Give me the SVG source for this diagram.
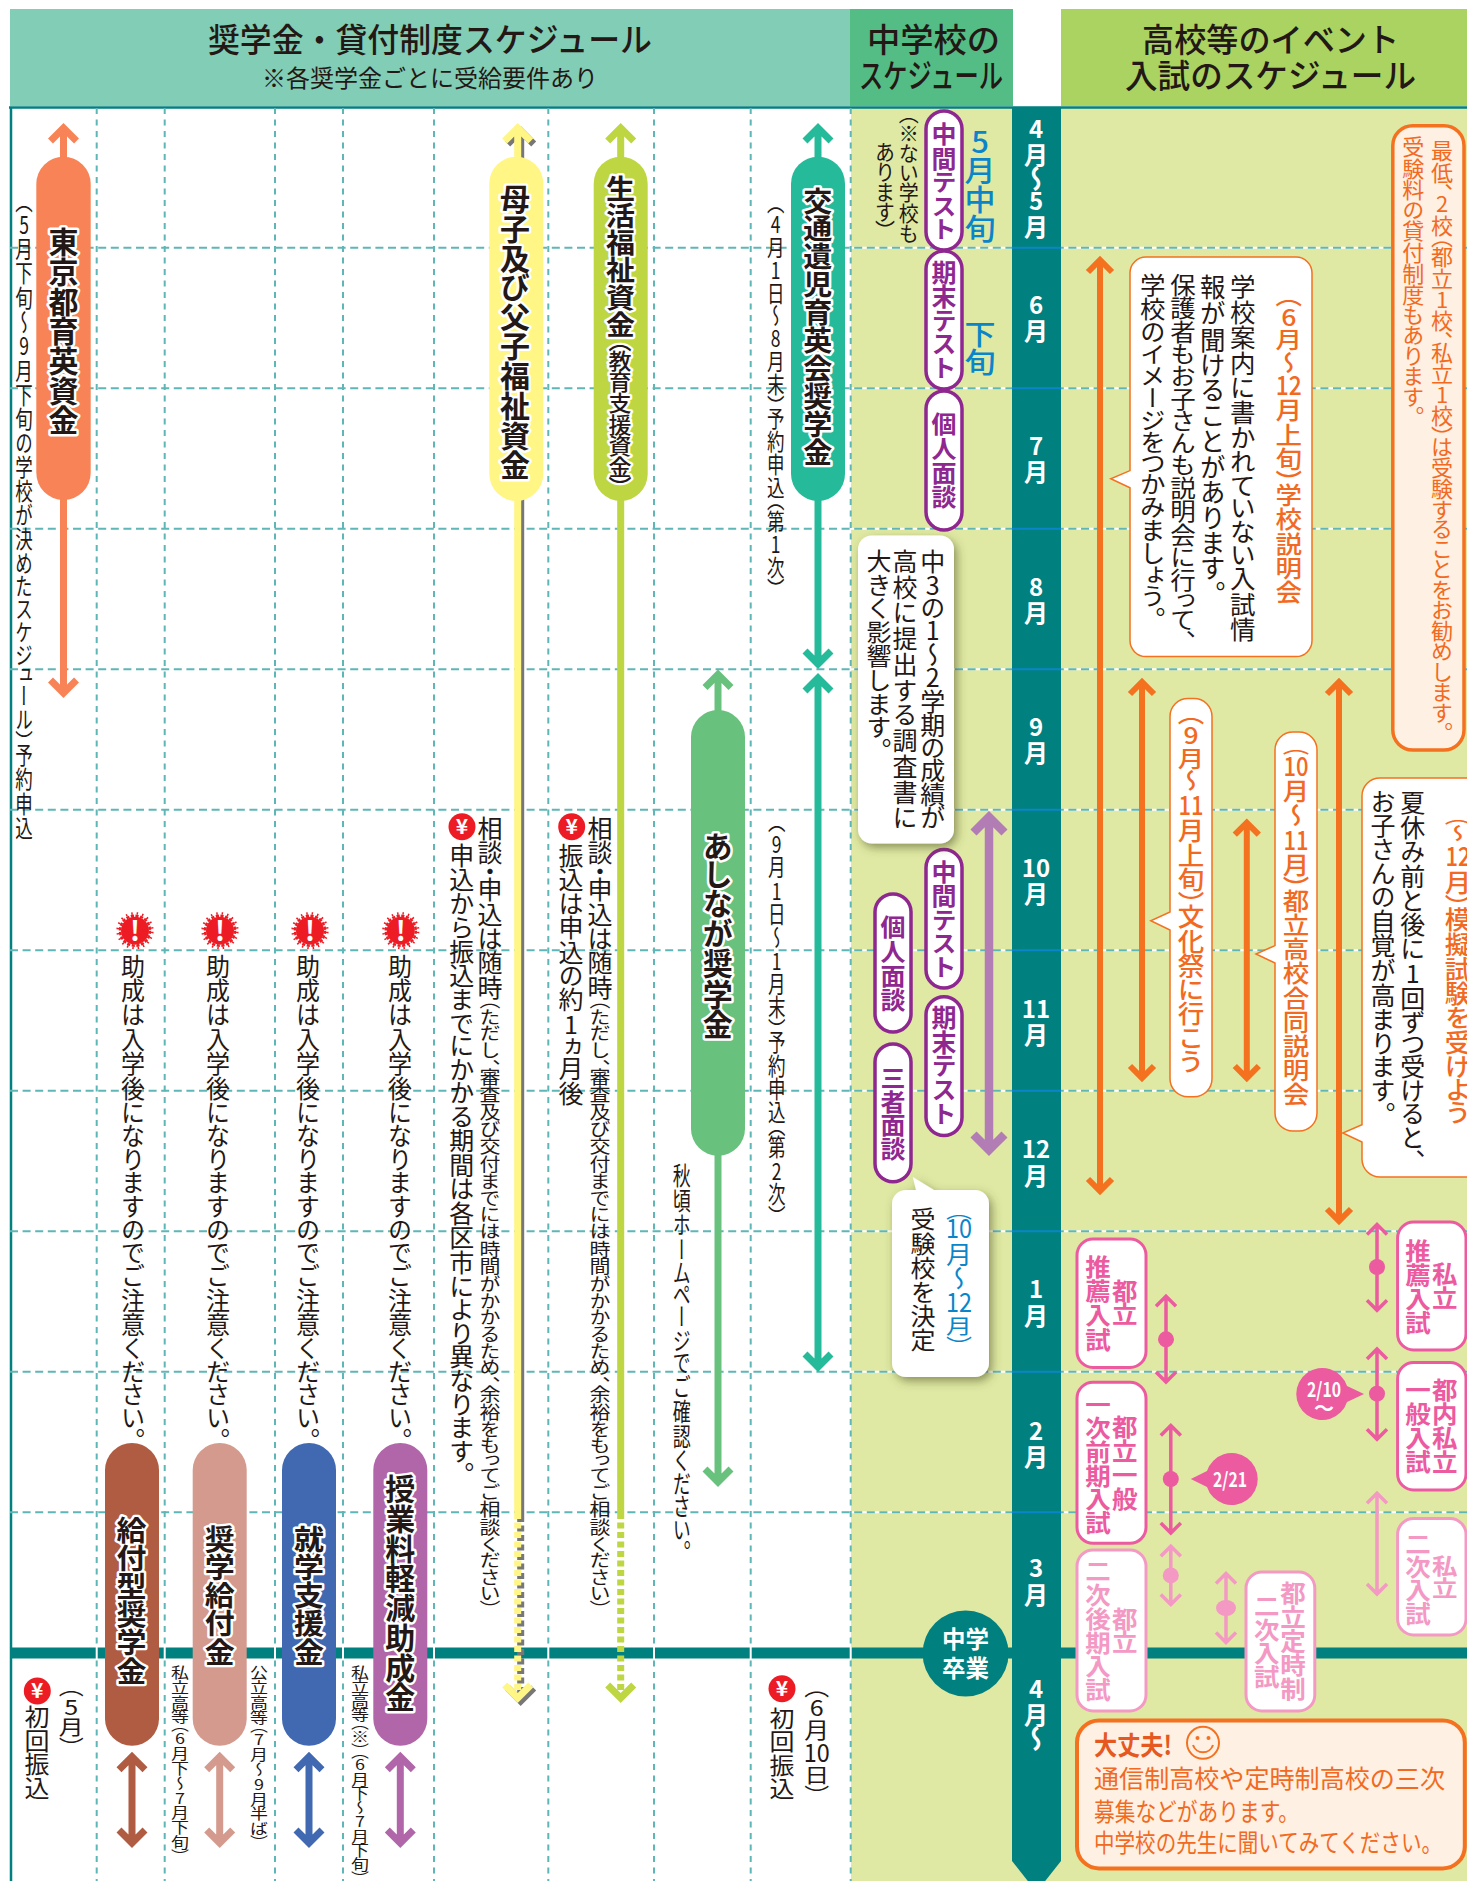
<svg xmlns="http://www.w3.org/2000/svg" width="1467" height="1881" viewBox="0 0 1467 1881">
<style>
text{font-family:"Noto Sans CJK JP","Noto Sans CJK SC",sans-serif;fill:#231815}
.v{writing-mode:vertical-rl;text-orientation:upright;font-feature-settings:"vpal"}
.B{font-weight:700}
.m{font-weight:500}
.h{stroke:#fff;stroke-width:5;stroke-linejoin:round;paint-order:stroke;font-weight:700}
.o{fill:#F26A21}.bl{fill:#0B85C9}.pu{fill:#8E278F;font-weight:700}.pk{fill:#EC5AA0;font-weight:700}.lp{fill:#F399C4;font-weight:700}.w{fill:#fff;font-weight:700}
.c{text-anchor:middle}
.g1{stroke:#5FB6B6;stroke-width:2;stroke-dasharray:8 4.6;fill:none}
.g2{stroke:#5FB6B6;stroke-width:2;stroke-dasharray:6 5.5;fill:none}
.a{fill:none;stroke-width:7}
.ao{fill:none;stroke:#F47120;stroke-width:6}
.ap{fill:none;stroke:#EC5AA0;stroke-width:3.5}
.al{fill:none;stroke:#F399C4;stroke-width:3.5}
.pill{fill:#fff;stroke:#8E278F;stroke-width:3.5}
.bp{fill:#fff;stroke:#EC5AA0;stroke-width:3}
.bl2{fill:#fff;stroke:#F399C4;stroke-width:3}
.co{fill:#fff;stroke:#F47120;stroke-width:1.5}
.wb{fill:#FEF0E3;stroke:#F47120}
</style>
<defs>
<filter id="sh" x="-20%" y="-20%" width="150%" height="150%"><feDropShadow dx="3" dy="4" stdDeviation="5" flood-color="#4a4a20" flood-opacity=".55"/></filter>
<g id="yen"><circle r="13.5" fill="#ED1C24"/><text class="w c" y="7" font-size="21">¥</text></g>
<g id="excl"><circle r="14" fill="#ED1C24"/><circle r="15" fill="none" stroke="#ED1C24" stroke-width="2.500" stroke-dasharray="3.200 1.512"/><circle r="17.400" fill="none" stroke="#ED1C24" stroke-width="2.500" stroke-dasharray="1.500 3.967" stroke-dashoffset="-1.120"/><text class="w c" y="10" font-size="27">!</text></g>
</defs>
<g id="background">
<rect width="1467" height="1881" fill="#fff"/>
<rect x="851" y="108" width="616" height="1773" fill="#DFE9A3"/>
<rect x="10" y="9" width="840" height="97" fill="#82CDB5"/>
<rect x="850" y="9" width="163" height="97" fill="#54BD85"/>
<rect x="1061" y="9" width="406" height="97" fill="#AAD362"/>
<path d="M9 107.500H1467M11 107V1881" fill="none" stroke="#00807F" stroke-width="2.500"/>
</g>
<g id="grid">
<path stroke="#fff" stroke-width="2" d="M851 247.700H1467M851 388.300H1467M851 528.800H1467M851 669.300H1467M851 809.800H1467M851 950.300H1467M851 1090.800H1467M851 1231.300H1467M851 1371.800H1467M851 1512.300H1467"/>
<path class="g1" d="M10 247.700H1467M10 388.300H1467M10 528.800H1467M10 669.300H1467M10 809.800H1467M10 950.300H1467M10 1090.800H1467M10 1231.300H1467M10 1371.800H1467M10 1512.300H1467"/>
<path class="g2" d="M96.700 108V1881M164.700 108V1881M275 108V1881M343 108V1881M434 108V1881M548.300 108V1881M654 108V1881M750.700 108V1881M850.700 108V1881"/>
<rect x="10" y="1647.500" width="1457" height="11" fill="#00807F"/>
<path stroke="#fff" stroke-width="2" d="M96.700 1647V1659M164.700 1647V1659M275 1647V1659M343 1647V1659M434 1647V1659M548.300 1647V1659M654 1647V1659M750.700 1647V1659M850.700 1647V1659"/>
</g>
<g id="month-column">
<path d="M1012 108H1061V1861L1036.500 1892L1012 1861Z" fill="#00807F"/>
<path stroke="#0B85C9" stroke-width="2" d="M1012 247.700H1061M1012 388.300H1061M1012 528.800H1061M1012 669.300H1061M1012 809.800H1061M1012 950.300H1061M1012 1090.800H1061M1012 1231.300H1061M1012 1371.800H1061M1012 1512.300H1061"/>
<g font-size="24">
<text class="w c" x="1036" y="138">4</text><text class="w c" x="1036" y="164">月</text><text class="w v" x="1036" y="165" font-size="27">～</text><text class="w c" x="1036" y="210">5</text><text class="w c" x="1036" y="236">月</text>
<text class="w c" x="1036" y="314">6</text><text class="w c" x="1036" y="340">月</text>
<text class="w c" x="1036" y="455">7</text><text class="w c" x="1036" y="481">月</text>
<text class="w c" x="1036" y="595.500">8</text><text class="w c" x="1036" y="621.500">月</text>
<text class="w c" x="1036" y="736">9</text><text class="w c" x="1036" y="762">月</text>
<text class="w c" x="1036" y="877">10</text><text class="w c" x="1036" y="903">月</text>
<text class="w c" x="1036" y="1018">11</text><text class="w c" x="1036" y="1044">月</text>
<text class="w c" x="1036" y="1158">12</text><text class="w c" x="1036" y="1185">月</text>
<text class="w c" x="1036" y="1298">1</text><text class="w c" x="1036" y="1325">月</text>
<text class="w c" x="1036" y="1439.500">2</text><text class="w c" x="1036" y="1466">月</text>
<text class="w c" x="1036" y="1577">3</text><text class="w c" x="1036" y="1604">月</text>
<text class="w c" x="1036" y="1697.500">4</text><text class="w c" x="1036" y="1724">月</text><text class="w v" x="1036" y="1725" font-size="27">～</text>
</g>
</g>
<g id="headers">
<text class="m" x="208" y="52" font-size="33" textLength="444" lengthAdjust="spacingAndGlyphs">奨学金・貸付制度スケジュール</text>
<text x="262" y="87" font-size="24" textLength="336" lengthAdjust="spacingAndGlyphs">※各奨学金ごとに受給要件あり</text>
<text class="m" x="867" y="52" font-size="33" textLength="133" lengthAdjust="spacingAndGlyphs">中学校の</text>
<text class="m" x="859" y="88" font-size="33" textLength="144" lengthAdjust="spacingAndGlyphs">スケジュール</text>
<text class="m" x="1142" y="52" font-size="33" textLength="257" lengthAdjust="spacingAndGlyphs">高校等のイベント</text>
<text class="m" x="1125" y="88" font-size="33" textLength="291" lengthAdjust="spacingAndGlyphs">入試のスケジュール</text>
</g>
<g id="connectors">
<path class="a" stroke="#F78356" d="M63.500 128V693M50.500 141L63.500 128L76.500 141M50.500 680L63.500 693L76.500 680"/>
<path class="a" stroke="#B05C42" d="M132 1756.700V1843M119 1769.700L132 1756.700L145 1769.700M119 1830L132 1843L145 1830"/>
<path class="a" stroke="#D49A8D" d="M219.700 1756.700V1843M206.700 1769.700L219.700 1756.700L232.700 1769.700M206.700 1830L219.700 1843L232.700 1830"/>
<path class="a" stroke="#4069B2" d="M309 1756.700V1843M296 1769.700L309 1756.700L322 1769.700M296 1830L309 1843L322 1830"/>
<path class="a" stroke="#B066A8" d="M400.300 1756.700V1843M387.300 1769.700L400.300 1756.700L413.300 1769.700M387.300 1830L400.300 1843L413.300 1830"/>
<g transform="translate(3,3)">
<path class="a" stroke="#777" d="M517.700 128V1513M504.700 141L517.700 128L530.700 141"/>
<path class="a" stroke="#777" stroke-dasharray="6 3.500" d="M517.700 1513V1698"/>
<path class="a" stroke="#777" d="M504.700 1685L517.700 1698L530.700 1685"/>
</g>
<path class="a" stroke="#FFF685" d="M517.700 128V1513M504.700 141L517.700 128L530.700 141"/>
<path class="a" stroke="#FFF685" stroke-dasharray="6 3.500" d="M517.700 1513V1698"/>
<path class="a" stroke="#FFF685" d="M504.700 1685L517.700 1698L530.700 1685"/>
<path class="a" stroke="#BED642" d="M620.700 128V1513M607.700 141L620.700 128L633.700 141"/>
<path class="a" stroke="#BED642" stroke-dasharray="6 3.500" d="M620.700 1513V1698"/>
<path class="a" stroke="#BED642" d="M607.700 1685L620.700 1698L633.700 1685"/>
<path class="a" stroke="#25BB9A" d="M818 128V664M805 141L818 128L831 141M805 651L818 664L831 651"/>
<path class="a" stroke="#25BB9A" d="M818 678V1367M805 691L818 678L831 691M805 1354L818 1367L831 1354"/>
<path class="a" stroke="#68C17C" d="M718 674.500V1482M705 687.500L718 674.500L731 687.500M705 1469L718 1482L731 1469"/>
<path fill="none" stroke="#B27CB4" stroke-width="8.500" d="M989 817V1150M973.500 832.500L989 817L1004.500 832.500M973.500 1134.500L989 1150L1004.500 1134.500"/>
<path class="ao" d="M1100 260V1191M1088 272L1100 260L1112 272M1088 1179L1100 1191L1112 1179"/>
<path class="ao" d="M1142 682V1078M1130 694L1142 682L1154 694M1130 1066L1142 1078L1154 1066"/>
<path class="ao" d="M1246.800 822.700V1078M1234.800 834.700L1246.800 822.700L1258.800 834.700M1234.800 1066L1246.800 1078L1258.800 1066"/>
<path class="ao" d="M1339 682V1221M1327 694L1339 682L1351 694M1327 1209L1339 1221L1351 1209"/>
<path class="ap" d="M1166 1296.300V1382M1156 1306.300L1166 1296.300L1176 1306.300M1156 1372L1166 1382L1176 1372"/>
<path class="ap" d="M1170.800 1425.500V1533M1160.800 1435.500L1170.800 1425.500L1180.800 1435.500M1160.800 1523L1170.800 1533L1180.800 1523"/>
<path class="al" d="M1170.800 1546.300V1604.500M1160.800 1556.300L1170.800 1546.300L1180.800 1556.300M1160.800 1594.500L1170.800 1604.500L1180.800 1594.500"/>
<path class="al" d="M1226 1573.500V1642.500M1216 1583.500L1226 1573.500L1236 1583.500M1216 1632.500L1226 1642.500L1236 1632.500"/>
<path class="ap" d="M1377 1224.500V1310.200M1367 1234.500L1377 1224.500L1387 1234.500M1367 1300.200L1377 1310.200L1387 1300.200"/>
<path class="ap" d="M1377 1349V1439.300M1367 1359L1377 1349L1387 1359M1367 1429.300L1377 1439.300L1387 1429.300"/>
<path class="al" d="M1377 1493.200V1594M1367 1503.200L1377 1493.200L1387 1503.200M1367 1584L1377 1594L1387 1584"/>
<g fill="#EC5AA0"><circle cx="1166" cy="1339.300" r="8"/><circle cx="1170.800" cy="1479" r="8"/><circle cx="1377" cy="1267" r="8"/><circle cx="1377" cy="1393.700" r="8"/></g>
<g fill="#F399C4"><circle cx="1170.800" cy="1575.400" r="8"/><ellipse cx="1226" cy="1608" rx="10" ry="8"/></g>
</g>
<g id="tokyo-ikuei">
<rect x="36.300" y="156.700" width="54.400" height="343.300" rx="27.200" fill="#F78356"/>
<text class="v h" x="63.500" y="227" font-size="30" textLength="208" lengthAdjust="spacingAndGlyphs">東京都育英資金</text>
<text class="v" x="24" y="200" font-size="17.500" textLength="640" lengthAdjust="spacingAndGlyphs">（5月下旬～9月下旬の学校が決めたスケジュール）予約申込</text>
<use href="#yen" x="37.300" y="1691"/>
<text class="v" x="37" y="1705" font-size="25" textLength="95" lengthAdjust="spacingAndGlyphs">初回振込</text>
<text class="v" x="71.300" y="1686" font-size="25" textLength="62" lengthAdjust="spacingAndGlyphs">（5月）</text>
</g>
<g id="kyufu">
<rect x="105" y="1443" width="54" height="302.700" rx="27" fill="#B05C42"/>
<text class="v h" x="131.500" y="1516" font-size="30" textLength="169" lengthAdjust="spacingAndGlyphs">給付型奨学金</text>
<use href="#excl" x="135" y="930.700"/>
<text class="v" x="133" y="954" font-size="24" textLength="487" lengthAdjust="spacingAndGlyphs">助成は入学後になりますのでご注意ください。</text>
<text class="v" x="180" y="1665" font-size="18" textLength="192" lengthAdjust="spacingAndGlyphs">私立高等（6月下～7月下旬）</text>
</g>
<g id="shogaku-kyufu">
<rect x="192.700" y="1443" width="54" height="302.700" rx="27" fill="#D49A8D"/>
<text class="v h" x="219.700" y="1525" font-size="30" textLength="141" lengthAdjust="spacingAndGlyphs">奨学給付金</text>
<use href="#excl" x="220" y="930.700"/>
<text class="v" x="218" y="954" font-size="24" textLength="487" lengthAdjust="spacingAndGlyphs">助成は入学後になりますのでご注意ください。</text>
<text class="v" x="259" y="1665" font-size="18" textLength="178" lengthAdjust="spacingAndGlyphs">公立高等（7月～9月半ば）</text>
</g>
<g id="shugaku-shien">
<rect x="282" y="1443" width="54" height="302.700" rx="27" fill="#4069B2"/>
<text class="v h" x="309" y="1525" font-size="30" textLength="141" lengthAdjust="spacingAndGlyphs">就学支援金</text>
<use href="#excl" x="310" y="930.700"/>
<text class="v" x="308" y="954" font-size="24" textLength="487" lengthAdjust="spacingAndGlyphs">助成は入学後になりますのでご注意ください。</text>
</g>
<g id="jugyoryo">
<rect x="373.300" y="1443" width="54" height="302.700" rx="27" fill="#B066A8"/>
<text class="v h" x="400.300" y="1474" font-size="30" textLength="238" lengthAdjust="spacingAndGlyphs">授業料軽減助成金</text>
<use href="#excl" x="400.800" y="930.700"/>
<text class="v" x="400" y="954" font-size="24" textLength="487" lengthAdjust="spacingAndGlyphs">助成は入学後になりますのでご注意ください。</text>
<text class="v" x="360" y="1665" font-size="18" textLength="214" lengthAdjust="spacingAndGlyphs">私立高等（※）（6月下～7月下旬）</text>
</g>
<g id="boshi">
<rect x="489.300" y="156.700" width="54" height="344.300" rx="27" fill="#FFF685"/>
<text class="v h" x="515" y="184" font-size="30" textLength="296" lengthAdjust="spacingAndGlyphs">母子及び父子福祉資金</text>
<use href="#yen" x="462" y="826.700"/>
<text class="v" x="490" y="816" font-size="25" textLength="184" lengthAdjust="spacingAndGlyphs">相談・申込は随時</text>
<text class="v" x="490" y="1000" font-size="21" textLength="610" lengthAdjust="spacingAndGlyphs">（ただし、審査及び交付までには時間がかかるため、余裕をもってご相談ください）</text>
<text class="v" x="461.700" y="843" font-size="25" textLength="632" lengthAdjust="spacingAndGlyphs">申込から振込までにかかる期間は各区市により異なります。</text>
</g>
<g id="seikatsu">
<rect x="593.700" y="156.700" width="54" height="344.300" rx="27" fill="#BED642"/>
<text class="v h" x="620.500" y="175" font-size="29" textLength="163" lengthAdjust="spacingAndGlyphs">生活福祉資金</text>
<text class="v h" x="620" y="340" font-size="23" stroke-width="4" textLength="148" lengthAdjust="spacingAndGlyphs" style="font-weight:500">（教育支援資金）</text>
<use href="#yen" x="571.700" y="826.700"/>
<text class="v" x="600" y="816" font-size="25" textLength="184" lengthAdjust="spacingAndGlyphs">相談・申込は随時</text>
<text class="v" x="600" y="1000" font-size="21" textLength="610" lengthAdjust="spacingAndGlyphs">（ただし、審査及び交付までには時間がかかるため、余裕をもってご相談ください）</text>
<text class="v" x="571" y="843" font-size="25" textLength="263" lengthAdjust="spacingAndGlyphs">振込は申込の約1ヵ月後</text>
</g>
<g id="ashinaga">
<rect x="691" y="710" width="54" height="445.700" rx="27" fill="#68C17C"/>
<text class="v h" x="717.700" y="831.700" font-size="30" textLength="208" lengthAdjust="spacingAndGlyphs">あしなが奨学金</text>
<text class="v" x="681.700" y="1163" font-size="18" textLength="390" lengthAdjust="spacingAndGlyphs">秋頃ホームページでご確認ください。</text>
</g>
<g id="kotsu-iji">
<rect x="791" y="156.700" width="54" height="344.300" rx="27" fill="#25BB9A"/>
<text class="v h" x="817.700" y="187" font-size="29" textLength="279" lengthAdjust="spacingAndGlyphs">交通遺児育英会奨学金</text>
<text class="v" x="775.700" y="201.700" font-size="17.500" textLength="388" lengthAdjust="spacingAndGlyphs">（4月1日～8月末）予約申込（第1次）</text>
<text class="v" x="776.700" y="820.700" font-size="17.500" textLength="397" lengthAdjust="spacingAndGlyphs">（9月1日～1月末）予約申込（第2次）</text>
<use href="#yen" x="782" y="1688.700"/>
<text class="v" x="782" y="1706.700" font-size="25" textLength="93" lengthAdjust="spacingAndGlyphs">初回振込</text>
<text class="v" x="816.700" y="1686.400" font-size="25" textLength="54" lengthAdjust="spacingAndGlyphs">（6月</text>
<text class="c" x="816.700" y="1762" font-size="25" textLength="26" lengthAdjust="spacingAndGlyphs">10</text>
<text class="v" x="816.700" y="1765" font-size="25" textLength="31" lengthAdjust="spacingAndGlyphs">日）</text>
</g>
<g id="midschool">
<text class="v bl m" x="980" y="127" font-size="31" textLength="116" lengthAdjust="spacingAndGlyphs">5月中旬</text>
<text class="v bl m" x="980" y="320" font-size="31" textLength="56" lengthAdjust="spacingAndGlyphs">下旬</text>
<text class="v" x="908.800" y="112" font-size="20" textLength="131" lengthAdjust="spacingAndGlyphs">（※ない学校も</text>
<text class="v" x="885" y="142" font-size="20" textLength="90" lengthAdjust="spacingAndGlyphs">あります）</text>
<rect class="pill" x="926" y="111" width="36" height="139" rx="18"/><text class="v pu" x="944" y="122" font-size="25" textLength="119" lengthAdjust="spacingAndGlyphs">中間テスト</text>
<rect class="pill" x="926" y="251" width="36" height="138" rx="18"/><text class="v pu" x="944" y="260" font-size="25" textLength="120" lengthAdjust="spacingAndGlyphs">期末テスト</text>
<rect class="pill" x="926" y="391" width="36" height="139" rx="18"/><text class="v pu" x="944" y="412" font-size="25" textLength="97" lengthAdjust="spacingAndGlyphs">個人面談</text>
<rect class="pill" x="926" y="849.600" width="36" height="138.400" rx="18"/><text class="v pu" x="944" y="859.500" font-size="25" textLength="119" lengthAdjust="spacingAndGlyphs">中間テスト</text>
<rect class="pill" x="875" y="894" width="36" height="138" rx="18"/><text class="v pu" x="893" y="915" font-size="25" textLength="97" lengthAdjust="spacingAndGlyphs">個人面談</text>
<rect class="pill" x="926" y="996.700" width="36" height="138.800" rx="18"/><text class="v pu" x="944" y="1005.800" font-size="25" textLength="120" lengthAdjust="spacingAndGlyphs">期末テスト</text>
<rect class="pill" x="875" y="1044" width="36" height="137.700" rx="18"/><text class="v pu" x="893" y="1066" font-size="25" textLength="95" lengthAdjust="spacingAndGlyphs">三者面談</text>
<rect x="858" y="535.500" width="96" height="308" rx="14" fill="#fff" filter="url(#sh)"/>
<text class="v" x="932.800" y="549" font-size="25" textLength="281" lengthAdjust="spacing">中3の1～2学期の成績が</text>
<text class="v" x="905" y="549" font-size="25" textLength="281" lengthAdjust="spacing">高校に提出する調査書に</text>
<text class="v" x="879" y="549" font-size="25" textLength="201" lengthAdjust="spacingAndGlyphs">大きく影響します。</text>
<path d="M906 1190H975A14 14 0 0 1 989 1204V1363A14 14 0 0 1 975 1377H906A14 14 0 0 1 892 1363V1204A14 14 0 0 1 906 1190H916L912.800 1177L934 1190Z" fill="#fff" filter="url(#sh)"/>
<text class="v" x="923" y="1207" font-size="25" textLength="145" lengthAdjust="spacingAndGlyphs">受験校を決定</text>
<text class="v bl" x="959" y="1211" font-size="26" textLength="8" lengthAdjust="spacingAndGlyphs">（</text>
<text class="bl c" x="959" y="1238" font-size="26" textLength="26" lengthAdjust="spacingAndGlyphs">10</text>
<text class="v bl" x="959" y="1242" font-size="26" textLength="49" lengthAdjust="spacingAndGlyphs">月～</text>
<text class="bl c" x="959" y="1312" font-size="26" textLength="26" lengthAdjust="spacingAndGlyphs">12</text>
<text class="v bl" x="959" y="1316" font-size="26" textLength="31" lengthAdjust="spacingAndGlyphs">月）</text>
<ellipse cx="965.600" cy="1653.400" rx="43" ry="43" fill="#00807F"/>
<text class="w c" x="965.600" y="1648" font-size="23.500">中学</text>
<text class="w c" x="965.600" y="1677" font-size="23.500">卒業</text>
</g>
<g id="setsumeikai">
<path class="co" d="M1146 257H1296A16 16 0 0 1 1312 273V640.600A16 16 0 0 1 1296 656.600H1146A16 16 0 0 1 1130 640.600V487.800L1110.800 478.800L1130 470.600V273A16 16 0 0 1 1146 257Z"/>
<text class="v o m" x="1288.800" y="294" font-size="26.500" textLength="80" lengthAdjust="spacingAndGlyphs">（6月～</text>
<text class="o c m" x="1288.800" y="395" font-size="26.500" textLength="26" lengthAdjust="spacingAndGlyphs">12</text>
<text class="v o m" x="1288.800" y="398" font-size="26.500" textLength="206" lengthAdjust="spacingAndGlyphs">月上旬）学校説明会</text>
<text class="v" x="1242.800" y="273.500" font-size="25.500" textLength="369" lengthAdjust="spacingAndGlyphs">学校案内に書かれていない入試情</text>
<text class="v" x="1212.800" y="273.500" font-size="25.500" textLength="320" lengthAdjust="spacingAndGlyphs">報が聞けることがあります。</text>
<text class="v" x="1183" y="273.500" font-size="25.500" textLength="369" lengthAdjust="spacingAndGlyphs">保護者もお子さんも説明会に行って、</text>
<text class="v" x="1152.800" y="273.500" font-size="25.500" textLength="345" lengthAdjust="spacingAndGlyphs">学校のイメージをつかみましょう。</text>
</g>
<g id="juken-note">
<rect class="wb" x="1392.800" y="125.700" width="71.200" height="624.300" rx="20" stroke-width="3.500"/>
<text class="v o" x="1442" y="140.800" font-size="22" textLength="592" lengthAdjust="spacingAndGlyphs">最低、2校（都立1校、私立1校）は受験することをお勧めします。</text>
<text class="v o" x="1413.200" y="136.700" font-size="22" textLength="280" lengthAdjust="spacingAndGlyphs">受験料の貸付制度もあります。</text>
</g>
<g id="bunkasai">
<path class="co" d="M1188 698.500H1194A18 18 0 0 1 1212 716.500V1078.700A18 18 0 0 1 1194 1096.700H1188A18 18 0 0 1 1170 1078.700V930L1150.800 920.700L1170 912V716.500A18 18 0 0 1 1188 698.500Z"/>
<text class="v o m" x="1191" y="713" font-size="26.500" textLength="79" lengthAdjust="spacingAndGlyphs">（9月～</text>
<text class="o c m" x="1191" y="815" font-size="26.500" textLength="25" lengthAdjust="spacingAndGlyphs">11</text>
<text class="v o m" x="1191" y="818.700" font-size="26.500" textLength="254" lengthAdjust="spacingAndGlyphs">月上旬）文化祭に行こう</text>
</g>
<g id="godo">
<path class="co" d="M1293 732H1299A18 18 0 0 1 1317 750V1113A18 18 0 0 1 1299 1131H1293A18 18 0 0 1 1275 1113V963L1256 954L1275 945.600V750A18 18 0 0 1 1293 732Z"/>
<text class="v o m" x="1296" y="746.800" font-size="26.500" textLength="8" lengthAdjust="spacingAndGlyphs">（</text>
<text class="o c m" x="1296" y="775.500" font-size="26.500" textLength="25" lengthAdjust="spacingAndGlyphs">10</text>
<text class="v o m" x="1296" y="779" font-size="26.500" textLength="47.600" lengthAdjust="spacingAndGlyphs">月～</text>
<text class="o c m" x="1296" y="850" font-size="26.500" textLength="25" lengthAdjust="spacingAndGlyphs">11</text>
<text class="v o m" x="1296" y="852.300" font-size="26.500" textLength="254" lengthAdjust="spacingAndGlyphs">月）都立高校合同説明会</text>
</g>
<g id="moshi">
<path class="co" d="M1380 778H1490V1177H1380A18 18 0 0 1 1362 1159V1142L1342.800 1133L1362 1124.800V796A18 18 0 0 1 1380 778Z"/>
<text class="v" x="1412.800" y="790" font-size="25" textLength="372" lengthAdjust="spacingAndGlyphs">夏休み前と後に1回ずつ受けると、</text>
<text class="v" x="1383" y="790" font-size="25" textLength="324.500" lengthAdjust="spacingAndGlyphs">お子さんの自覚が高まります。</text>
<text class="v o m" x="1458" y="816" font-size="26.500" textLength="26" lengthAdjust="spacingAndGlyphs">（～</text>
<text class="o c m" x="1458" y="866" font-size="26.500" textLength="25" lengthAdjust="spacingAndGlyphs">12</text>
<text class="v o m" x="1458" y="870.500" font-size="26.500" textLength="253.500" lengthAdjust="spacingAndGlyphs">月）模擬試験を受けよう</text>
</g>
<g id="toritsu-suisen">
<rect class="bp" x="1077" y="1239" width="69" height="128.500" rx="16"/>
<text class="v pk" x="1124.800" y="1279" font-size="25.500" textLength="47" lengthAdjust="spacingAndGlyphs">都立</text>
<text class="v pk" x="1098" y="1254.600" font-size="25.500" textLength="97" lengthAdjust="spacingAndGlyphs">推薦入試</text>
</g>
<g id="toritsu-zenki">
<rect class="bp" x="1077" y="1382.300" width="69" height="161" rx="16"/>
<text class="v pk" x="1124.800" y="1414.800" font-size="25.500" textLength="96" lengthAdjust="spacingAndGlyphs">都立一般</text>
<text class="v pk" x="1098" y="1393" font-size="25.500" textLength="142" lengthAdjust="spacingAndGlyphs">一次前期入試</text>
</g>
<g id="toritsu-koki">
<rect class="bl2" x="1077" y="1550" width="69" height="161" rx="16"/>
<text class="v lp" x="1124.800" y="1607" font-size="25.500" textLength="47" lengthAdjust="spacingAndGlyphs">都立</text>
<text class="v lp" x="1098" y="1559.400" font-size="25.500" textLength="142.600" lengthAdjust="spacingAndGlyphs">二次後期入試</text>
</g>
<g id="teijisei">
<rect class="bl2" x="1246" y="1572" width="68.800" height="139" rx="16"/>
<text class="v lp" x="1293" y="1581" font-size="25.500" textLength="119.600" lengthAdjust="spacingAndGlyphs">都立定時制</text>
<text class="v lp" x="1266.800" y="1594.400" font-size="25.500" textLength="94.400" lengthAdjust="spacingAndGlyphs">二次入試</text>
</g>
<g id="shiritsu-suisen">
<rect class="bp" x="1397.600" y="1222" width="68.400" height="128" rx="16"/>
<text class="v pk" x="1444.800" y="1262" font-size="25.500" textLength="47.400" lengthAdjust="spacingAndGlyphs">私立</text>
<text class="v pk" x="1418" y="1239" font-size="25.500" textLength="95.700" lengthAdjust="spacingAndGlyphs">推薦入試</text>
</g>
<g id="shiritsu-ippan">
<rect class="bp" x="1397.600" y="1362.500" width="68.400" height="127.500" rx="16"/>
<text class="v pk" x="1444.800" y="1378" font-size="25.500" textLength="95.800" lengthAdjust="spacingAndGlyphs">都内私立</text>
<text class="v pk" x="1418" y="1378" font-size="25.500" textLength="95.800" lengthAdjust="spacingAndGlyphs">一般入試</text>
</g>
<g id="shiritsu-niji">
<rect class="bl2" x="1397.600" y="1518.500" width="68.400" height="116.500" rx="16"/>
<text class="v lp" x="1444.800" y="1555" font-size="25.500" textLength="44" lengthAdjust="spacingAndGlyphs">私立</text>
<text class="v lp" x="1418" y="1532" font-size="25.500" textLength="93.600" lengthAdjust="spacingAndGlyphs">二次入試</text>
</g>
<g id="bubble-221">
<path d="M1190.800 1479L1207 1471A26 26 0 1 1 1207 1487Z" fill="#EC5AA0"/>
<text class="w c" x="1230" y="1487" font-size="20" textLength="34" lengthAdjust="spacingAndGlyphs">2/21</text>
</g>
<g id="bubble-210">
<path d="M1364 1394L1347 1386A26 26 0 1 0 1347 1402Z" fill="#EC5AA0"/>
<text class="w c" x="1324" y="1397" font-size="20" textLength="34" lengthAdjust="spacingAndGlyphs">2/10</text>
<text class="w c" x="1324" y="1416" font-size="20">～</text>
</g>
<g id="daijobu">
<rect class="wb" x="1077" y="1720.400" width="387.800" height="148" rx="22" stroke-width="4"/>
<text x="1094" y="1755.400" font-size="26" textLength="78" lengthAdjust="spacingAndGlyphs" style="font-weight:700;fill:#E5581F">大丈夫!</text>
<g fill="none" stroke="#F47120" stroke-width="2"><circle cx="1203" cy="1742.800" r="16"/><path d="M1193 1745A10.500 10.500 0 0 0 1213 1745"/></g>
<circle cx="1197.500" cy="1738" r="2" fill="#F47120"/><circle cx="1208.500" cy="1738" r="2" fill="#F47120"/>
<text class="o" x="1094" y="1788" font-size="25" textLength="351" lengthAdjust="spacingAndGlyphs">通信制高校や定時制高校の三次</text>
<text class="o" x="1094" y="1820.800" font-size="25" textLength="205" lengthAdjust="spacingAndGlyphs">募集などがあります。</text>
<text class="o" x="1094" y="1852" font-size="25" textLength="348" lengthAdjust="spacingAndGlyphs">中学校の先生に聞いてみてください。</text>
</g>
</svg>
